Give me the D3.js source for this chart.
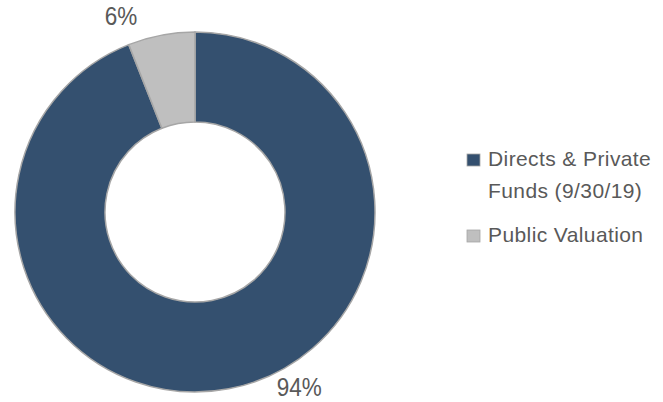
<!DOCTYPE html>
<html>
<head>
<meta charset="utf-8">
<script src="https://cdn.jsdelivr.net/npm/d3@7"></script>
<style>
  body { margin: 0; background: #fff; }
  text { font-family: "Liberation Sans", Arial, sans-serif; fill: #595959; }
</style>
</head>
<body>
<div id="chart"></div>
<script>
// Chart data
const categories = ["Directs & Private Funds (9/30/19)", "Public Valuation"];
const legendLines = [["Directs & Private", "Funds (9/30/19)"], ["Public Valuation"]];
const shares = [94, 6];
const colors = ["#34506f", "#bfbfbf"];

const width = 663;
const height = 402;
const cx = 195, cy = 212;
const outerR = 180, innerR = 90;

const svg = d3
  .select("#chart")
  .append("svg")
  .attr("width", width)
  .attr("height", height);

const pie = d3.pie().sort(null).value((d) => d);
const arcs = pie(shares);

const arc = d3.arc().innerRadius(innerR).outerRadius(outerR);

const g = svg.append("g").attr("transform", `translate(${cx},${cy})`);

g.selectAll("path.slice")
  .data(arcs)
  .enter()
  .append("path")
  .attr("class", "slice")
  .attr("d", arc)
  .attr("fill", (d, i) => colors[i])
  .attr("stroke", "#a6a6a6")
  .attr("stroke-width", 1.5);

// Percent labels outside the ring (placed like Excel's best fit)
const labelFit = [
  { t: 0.441, r: 204 },
  { t: 0.04, r: 209 },
];
g.selectAll("text.pct")
  .data(arcs)
  .enter()
  .append("text")
  .attr("class", "pct")
  .attr("transform", (d, i) => {
    const a = d.startAngle + (d.endAngle - d.startAngle) * labelFit[i].t;
    const r = labelFit[i].r;
    return `translate(${Math.sin(a) * r},${-Math.cos(a) * r}) scale(0.9,1)`;
  })
  .attr("text-anchor", "middle")
  .attr("dy", "0.35em")
  .style("font-size", "25px")
  .text((d) => d.data + "%");

// Legend
const legend = svg.append("g").attr("transform", "translate(467,0)");
const legendY = [154, 230];
categories.forEach((c, i) => {
  const item = legend.append("g").attr("transform", `translate(0,${legendY[i]})`);
  item
    .append("rect")
    .attr("width", 13)
    .attr("height", 12)
    .attr("fill", colors[i])
    .attr("stroke", "#a6a6a6")
    .attr("stroke-width", 0.8);
  legendLines[i].forEach((line, j) => {
    item
      .append("text")
      .attr("x", 21)
      .attr("y", 12 + j * 32)
      .style("font-size", "21px")
      .style("letter-spacing", "0.4px")
      .text(line);
  });
});
</script>
</body>
</html>
